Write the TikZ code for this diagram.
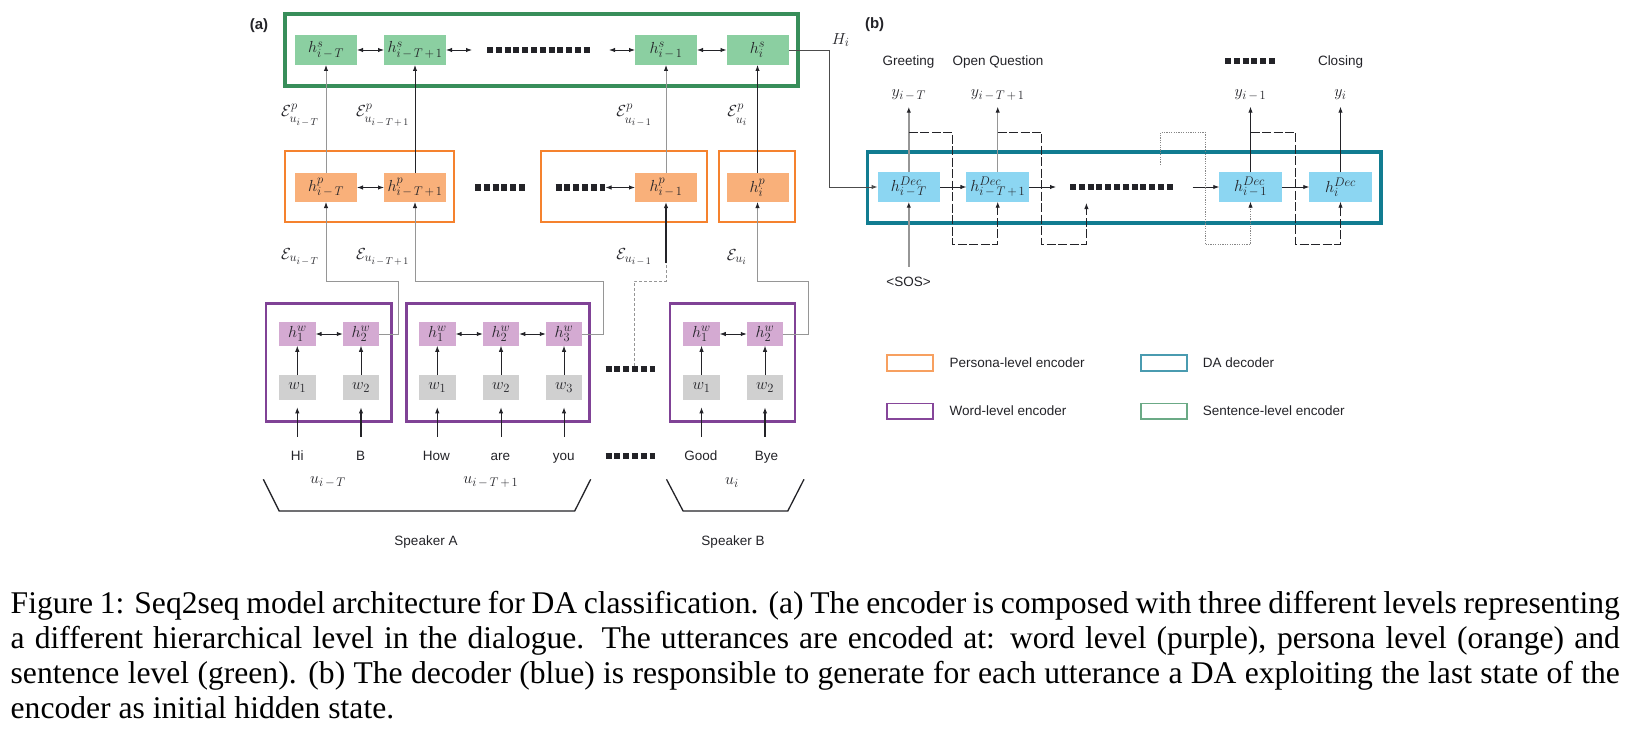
\RequirePackage{fix-cm}
\documentclass[tikz,border=0pt]{standalone}
\usepackage{fontspec}
\setsansfont{Liberation Sans}
\newfontfamily\capfont{Liberation Serif}
\usetikzlibrary{arrows.meta}
\DeclareMathSizes{16}{16}{12.5}{10}
\newcommand{\smin}{\mskip2.5mu{-}\mskip2.5mu}
\newcommand{\splus}{\mskip2.5mu{+}\mskip2.5mu}
\newcommand{\EPlab}[1]{\mathcal{E}^{\raise1.5pt\hbox{$\scriptstyle p$}}_{\lower2.5pt\hbox{$\scriptstyle #1$}}}
\definecolor{gfill}{RGB}{139,207,161}
\definecolor{gborder}{RGB}{56,142,90}
\definecolor{ofill}{RGB}{249,176,122}
\definecolor{oborder}{RGB}{245,130,46}
\definecolor{pfill}{RGB}{212,170,210}
\definecolor{pborder}{RGB}{128,66,150}
\definecolor{wfill}{RGB}{208,208,208}
\definecolor{bfill}{RGB}{140,214,242}
\definecolor{bborder}{RGB}{17,124,145}
\definecolor{lorange}{RGB}{247,160,96}
\definecolor{lteal}{RGB}{74,155,176}
\definecolor{lpurple}{RGB}{134,70,154}
\definecolor{lgreen}{RGB}{107,170,134}
\definecolor{gline}{RGB}{150,150,150}
\definecolor{txt}{RGB}{35,35,40}
\tikzset{
  >={Latex[length=6pt,width=4.4pt]},
  mathf/.style={font=\fontsize{16}{19}\selectfont},
  nd/.style={inner sep=0pt, outer sep=0pt, mathf, text=txt},
  gn/.style={nd, fill=gfill, minimum width=62pt, minimum height=30pt},
  on/.style={nd, fill=ofill, minimum width=62pt, minimum height=29pt},
  hn/.style={nd, fill=pfill, minimum width=36.5pt, minimum height=23.5pt},
  wn/.style={nd, fill=wfill, minimum width=36.5pt, minimum height=25pt},
  dn/.style={nd, fill=bfill, minimum width=62.5pt, minimum height=29.4pt},
  boxn/.style={draw, inner sep=0pt, outer sep=0pt, fill=none},
  sf/.style={font=\sffamily\fontsize{13.5}{16}\selectfont, inner sep=0pt, text height=9.7pt, text depth=0pt, text=txt},
  lbl/.style={inner sep=0pt, mathf, text=txt},
  dotsq/.style={line width=6.3pt, dash pattern=on 6pt off 2.8pt, txt},
  arr/.style={->, line width=0.9pt, txt},
  darr/.style={<->, line width=0.9pt, txt},
  garr/.style={-{Latex[length=6pt,width=4.4pt,color=txt]}, line width=0.9pt, gline},
  fb/.style={->, line width=0.9pt, txt, dash pattern=on 9pt off 2.5pt},
  fbdot/.style={-{Latex[length=6pt,width=4.4pt,color=txt]}, line width=0.8pt, gline!90!black, dash pattern=on 1.2pt off 1.2pt},
  legr/.style={draw, line width=1.6pt, minimum width=46pt, minimum height=15.7pt, inner sep=0pt}
}
\begin{document}
\begin{tikzpicture}[x=1pt,y=-1pt]
\useasboundingbox (0,0) rectangle (1649,749);

% ---------- panel labels
\node[font=\sffamily\bfseries\fontsize{15}{18}\selectfont, text=txt, inner sep=0pt] (la) at (259,26) {(a)};
\node[font=\sffamily\bfseries\fontsize{15}{18}\selectfont, text=txt, inner sep=0pt] (lb) at (874.6,25) {(b)};

% ---------- boxes
\node[boxn, draw=gborder, line width=3.6pt, minimum width=513pt, minimum height=72pt] (G) at (541.5,50) {};
\node[boxn, draw=oborder, line width=2.8pt, minimum width=169pt, minimum height=71pt] (O1) at (369.5,186.5) {};
\node[boxn, draw=oborder, line width=2.8pt, minimum width=166pt, minimum height=71pt] (O2) at (624,186.5) {};
\node[boxn, draw=oborder, line width=2.8pt, minimum width=76pt, minimum height=71pt] (O3) at (757,186.5) {};
\node[boxn, draw=pborder, line width=2.8pt, minimum width=125.6pt, minimum height=118.4pt] (P1) at (328.8,362.5) {};
\node[boxn, draw=pborder, line width=2.8pt, minimum width=182.7pt, minimum height=118.4pt] (P2) at (498.15,362.5) {};
\node[boxn, draw=pborder, line width=2.8pt, minimum width=125pt, minimum height=118.4pt] (P3) at (732.5,362.5) {};
\node[boxn, draw=bborder, line width=3.8pt, minimum width=513.5pt, minimum height=71pt] (B) at (1124.25,187.2) {};

% ---------- sentence level
\node[gn] (s1) at (326,50) {$h^{s}_{i\smin T}$};
\node[gn] (s2) at (415,50) {$h^{s}_{i\smin T\splus 1}$};
\node[gn] (s3) at (666,50) {$h^{s}_{i\smin 1}$};
\node[gn] (s4) at (757.5,50) {$h^{s}_{i}$};
\draw[dotsq] (487,50) -- (589.5,50);
\draw[darr] (s1) -- (s2);
\coordinate (sd1) at (472,50);
\coordinate (sd2) at (609,50);
\draw[darr] (s2.east) -- (sd1);
\draw[darr] (sd2) -- (s3.west);
\draw[darr] (s3) -- (s4);

% ---------- persona level
\node[on] (p1) at (326,187.5) {$h^{p}_{i\smin T}$};
\node[on] (p2) at (415,187.5) {$h^{p}_{i\smin T\splus 1}$};
\node[on] (p3) at (666,187.5) {$h^{p}_{i\smin 1}$};
\node[on] (p4) at (757.5,187.5) {$h^{p}_{i}$};
\draw[darr] (p1) -- (p2);
\draw[dotsq] (475,187.5) -- (524.8,187.5);
\draw[dotsq] (555.5,187.5) -- (605.3,187.5);
\coordinate (pd) at (605.5,187.5);
\draw[darr] (pd) -- (p3.west);

\draw[garr] (p1.north) -- (s1.south);
\draw[arr] (p2.north) -- (s2.south);
\draw[garr] (p3.north) -- (s3.south);
\draw[arr] (p4.north) -- (s4.south);

\node[lbl, anchor=east] (ep1) at (319,115) {$\EPlab{u_{i\smin T}}$};
\node[lbl, anchor=east] (ep2) at (409.5,115) {$\EPlab{u_{i\smin T\splus 1}}$};
\node[lbl, anchor=east] (ep3) at (652,115) {$\EPlab{u_{i\smin 1}}$};
\node[lbl, anchor=east] (ep4) at (747.5,115) {$\EPlab{u_{i}}$};

\node[lbl, anchor=east] (e1) at (319,257) {$\mathcal{E}_{u_{i\smin T}}$};
\node[lbl, anchor=east] (e2) at (409.5,257) {$\mathcal{E}_{u_{i\smin T\splus 1}}$};
\node[lbl, anchor=east] (e3) at (652,257) {$\mathcal{E}_{u_{i\smin 1}}$};
\node[lbl, anchor=east] (e4) at (747,257) {$\mathcal{E}_{u_{i}}$};

% ---------- word level
\node[hn] (ha1) at (297.3,334) {$h^{w}_{1}$};
\node[hn] (ha2) at (361,334) {$h^{w}_{2}$};
\node[hn] (hb1) at (437.3,334) {$h^{w}_{1}$};
\node[hn] (hb2) at (501,334) {$h^{w}_{2}$};
\node[hn] (hb3) at (564,334) {$h^{w}_{3}$};
\node[hn] (hc1) at (701.5,334) {$h^{w}_{1}$};
\node[hn] (hc2) at (765,334) {$h^{w}_{2}$};

\node[wn] (wa1) at (297.3,387.5) {$w_{1}$};
\node[wn] (wa2) at (361,387.5) {$w_{2}$};
\node[wn] (wb1) at (437.3,387.5) {$w_{1}$};
\node[wn] (wb2) at (501,387.5) {$w_{2}$};
\node[wn] (wb3) at (564,387.5) {$w_{3}$};
\node[wn] (wc1) at (701.5,387.5) {$w_{1}$};
\node[wn] (wc2) at (765,387.5) {$w_{2}$};

\draw[darr] (ha1) -- (ha2);
\draw[darr] (hb1) -- (hb2);
\draw[darr] (hb2) -- (hb3);
\draw[darr] (hc1) -- (hc2);
\foreach \a in {a1,a2,b1,b2,b3,c1,c2}{\draw[arr] (w\a.north) -- (h\a.south);}

\node[sf] (tHi) at (297.3,456) {Hi};
\node[sf] (tB) at (360.6,456) {B};
\node[sf] (tHow) at (436.4,456) {How};
\node[sf] (tare) at (500.4,456) {are};
\node[sf] (tyou) at (563.7,456) {you};
\node[sf] (tGood) at (700.9,456) {Good};
\node[sf] (tBye) at (766.4,456) {Bye};
\coordinate (wtop) at (0,436.7);
\foreach \a in {a1,b1,b2,b3,c1}{\draw[arr, shorten >=7.3pt] (w\a.south |- wtop) -- (w\a.south);}
\foreach \a in {a2,c2}{\draw[arr, line width=1.6pt, shorten >=7.3pt] (w\a.south |- wtop) -- (w\a.south);}

\draw[dotsq] (605.5,369) -- (655.3,369);
\draw[dotsq] (605.5,456) -- (655.3,456);

% connectors word -> persona
\coordinate (c1) at (398.3,281);
\coordinate (c2) at (603,281);
\coordinate (c4) at (808,281);
\coordinate (c3a) at (634,366);
\coordinate (c3b) at (666,263);
\draw[garr] (ha2.east) -| (c1) -| (p1.south);
\draw[garr] (hb3.east) -| (c2) -| (p2.south);
\draw[garr] (hc2.east) -| (c4) -| (p4.south);
\draw[gline, line width=0.9pt, dash pattern=on 3pt off 2pt] (c3a) |- (c3b |- c1) -- (c3b);
\draw[arr, line width=1.8pt] (c3b) -- (p3.south);

% utterance labels and brackets
\node[lbl] (u1) at (328,482.3) {$u_{i\smin T}$};
\node[lbl] (u2) at (490.8,482.3) {$u_{i\smin T\splus 1}$};
\node[lbl] (u3) at (732,482.3) {$u_{i}$};
\draw[txt, line width=1.3pt] (263.3,479.3) -- (279.2,511) -- (574.7,511) -- (590.7,479.3);
\draw[txt, line width=1.3pt] (666.5,479.3) -- (683.1,511) -- (787.8,511) -- (804,479.3);
\node[sf] (spA) at (426,541) {Speaker A};
\node[sf] (spB) at (733,541) {Speaker B};

% ---------- decoder
\node[dn] (d1) at (908.8,187) {$h^{Dec}_{i\smin T}$};
\node[dn] (d2) at (997.7,187) {$h^{Dec}_{i\smin T\splus 1}$};
\node[dn] (d3) at (1250.5,187) {$h^{Dec}_{i\smin 1}$};
\node[dn] (d4) at (1340.5,187) {$h^{Dec}_{i}$};
\draw[dotsq] (1070,187) -- (1172.5,187);
\coordinate (dd1) at (1056,187);
\coordinate (dd2) at (1192.5,187);
\draw[arr] (d1) -- (d2);
\draw[arr] (d2.east) -- (dd1);
\draw[arr] (dd2) -- (d3.west);
\draw[arr] (d3) -- (d4);

% H_i connector
\coordinate (hc) at (829.3,50);
\node[lbl] (Hi) at (840.7,40) {$H_{i}$};
\draw[->, line width=0.9pt, black!70] (s4.east) -- (hc) |- (d1.west);

% outputs
\node[lbl] (y1) at (908.8,95) {$y_{i\smin T}$};
\node[lbl] (y2) at (997.7,95) {$y_{i\smin T\splus 1}$};
\node[lbl] (y3) at (1250.5,95) {$y_{i\smin 1}$};
\node[lbl] (y4) at (1340.5,95) {$y_{i}$};
\coordinate (ytip) at (0,106.7);
\draw[-{Latex[length=6pt,width=4.4pt,color=txt]}, line width=1.6pt, gline] (d1.north) -- (d1.north |- ytip);
\draw[garr] (d2.north) -- (d2.north |- ytip);
\draw[arr] (d3.north) -- (d3.north |- ytip);
\draw[arr] (d4.north) -- (d4.north |- ytip);

\node[sf] (gr) at (908.6,60.7) {Greeting};
\node[sf] (oq) at (997.9,60.7) {Open Question};
\node[sf] (cl) at (1340.5,60.7) {Closing};
\draw[dotsq] (1225,60.7) -- (1274.8,60.7);

% SOS
\node[sf] (sos) at (908.6,281.7) {<SOS>};
\coordinate (sostop) at (0,266.7);
\draw[-{Latex[length=6pt,width=4.4pt,color=txt]}, line width=1.6pt, gline] (d1.south |- sostop) -- (d1.south);

% feedback
\coordinate (fbt) at (0,132.3);
\coordinate (f1) at (952.5,244.3);
\coordinate (f2) at (1041.8,244.3);
\coordinate (f2e) at (1086.4,203);
\coordinate (f3s) at (1160.7,165);
\coordinate (f3a) at (1205,132.3);
\coordinate (f3b) at (1205,244.3);
\coordinate (f4) at (1295.4,244.3);
\draw[fb] (d1.north |- fbt) -| (f1) -| (d2.south);
\draw[fb] (d2.north |- fbt) -| (f2) -| (f2e);
\draw[fbdot] (f3s) |- (f3a) -- (f3b) -| (d3.south);
\draw[fb] (d3.north |- fbt) -| (f4) -| (d4.south);

% ---------- legend
\node[legr, draw=lorange] (lg1) at (909.7,362.85) {};
\node[legr, draw=lteal] (lg2) at (1163.7,362.85) {};
\node[legr, draw=lpurple] (lg3) at (909.7,411.15) {};
\node[legr, draw=lgreen] (lg4) at (1163.7,411.15) {};
\node[sf, anchor=west] (lt1) at (949.3,363) {Persona-level encoder};
\node[sf, anchor=west] (lt2) at (1202.7,363) {DA decoder};
\node[sf, anchor=west] (lt3) at (949.3,411) {Word-level encoder};
\node[sf, anchor=west] (lt4) at (1202.7,411) {Sentence-level encoder};

% ---------- caption
\begin{scope}[every node/.style={inner sep=0pt, anchor=base west, font=\capfont\fontsize{31.6}{35}\selectfont, text=black}]
\node (cap1) at (10.5,613.3) {\makebox[1609pt][s]{Figure 1: Seq2seq model architecture for DA classification. (a) The encoder is composed with three different levels representing}};
\node (cap2) at (10.5,648.3) {\makebox[1609pt][s]{a different hierarchical level in the dialogue. The utterances are encoded at: word level (purple), persona level (orange) and}};
\node (cap3) at (10.5,683.3) {\makebox[1609pt][s]{sentence level (green). (b) The decoder (blue) is responsible to generate for each utterance a DA exploiting the last state of the}};
\node (cap4) at (10.5,718.3) {encoder as initial hidden state.};
\end{scope}
\end{tikzpicture}
\end{document}
